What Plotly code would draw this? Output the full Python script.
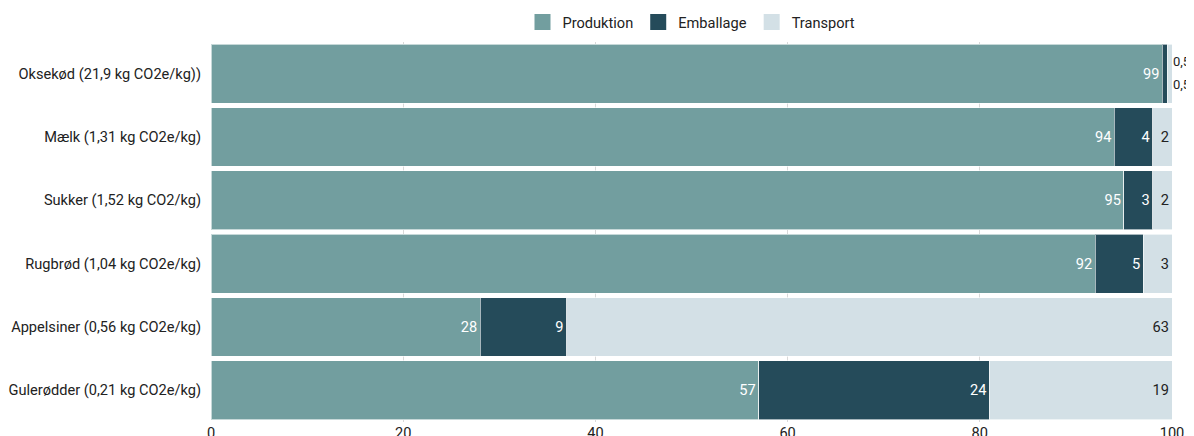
import plotly.graph_objects as go

categories = ["Oksekød (21,9 kg CO2e/kg))", "Mælk (1,31 kg CO2e/kg)", "Sukker (1,52 kg CO2/kg)",
              "Rugbrød (1,04 kg CO2e/kg)", "Appelsiner (0,56 kg CO2e/kg)", "Gulerødder (0,21 kg CO2e/kg)"]
produktion = [99, 94, 95, 92, 28, 57]
emballage = [0.5, 4, 3, 5, 9, 24]
transport = [0.5, 2, 2, 3, 63, 19]

series = [("Produktion", produktion, "#729e9f", "white"),
          ("Emballage", emballage, "#254b5a", "white"),
          ("Transport", transport, "#d3e0e6", "#222222")]

FS = 14.6

def fmt(v):
    return (f"{v:g}").replace(".", ",")

fig = go.Figure()
for name, vals, color, tcolor in series:
    texts = [fmt(v) if v >= 1 else "" for v in vals]
    fig.add_trace(go.Bar(
        y=categories, x=vals, name=name, orientation="h", showlegend=False,
        marker=dict(color=color, line=dict(color="rgba(255,255,255,0.6)", width=1)),
        text=texts, textposition="inside", insidetextanchor="end",
        textfont=dict(color=tcolor, size=FS, family="Roboto"),
        hoverinfo="x+name", cliponaxis=False,
    ))
    # legend proxy with larger square swatch
    fig.add_trace(go.Scatter(
        x=[None], y=[None], mode="markers", name=name, showlegend=True,
        marker=dict(symbol="square", size=17, color=color),
    ))

# small values outside the first bar
small = [emballage[0], transport[0]]
for i, v in enumerate(small):
    fig.add_annotation(x=1, y=categories[0], xref="paper", yref="y", text=fmt(v),
                       showarrow=False, xanchor="left", xshift=0, yshift=12 - 23 * i,
                       borderpad=0,
                       font=dict(size=13, color="#222222", family="Roboto"))

fig.update_layout(
    width=1186, height=428,
    barmode="stack", bargap=0.07,
    margin=dict(l=203, r=22, t=34, b=14, autoexpand=False),
    plot_bgcolor="white", paper_bgcolor="white",
    font=dict(family="Roboto", size=FS, color="#222222"),
    legend=dict(orientation="h", x=0.5, xanchor="center", yref="paper", y=1 + 20 / 380, yanchor="middle",
                font=dict(size=FS), traceorder="normal"),
    xaxis=dict(range=[0, 100], tickvals=[0, 20, 40, 60, 80, 100], showgrid=True, gridcolor="#d9d9d9",
               zeroline=False, ticks="", tickfont=dict(size=FS), automargin=False),
    yaxis=dict(autorange="reversed", ticks="", ticklabelstandoff=9, showgrid=False, automargin=False),
    showlegend=True,
)
fig.write_html("out.html")
